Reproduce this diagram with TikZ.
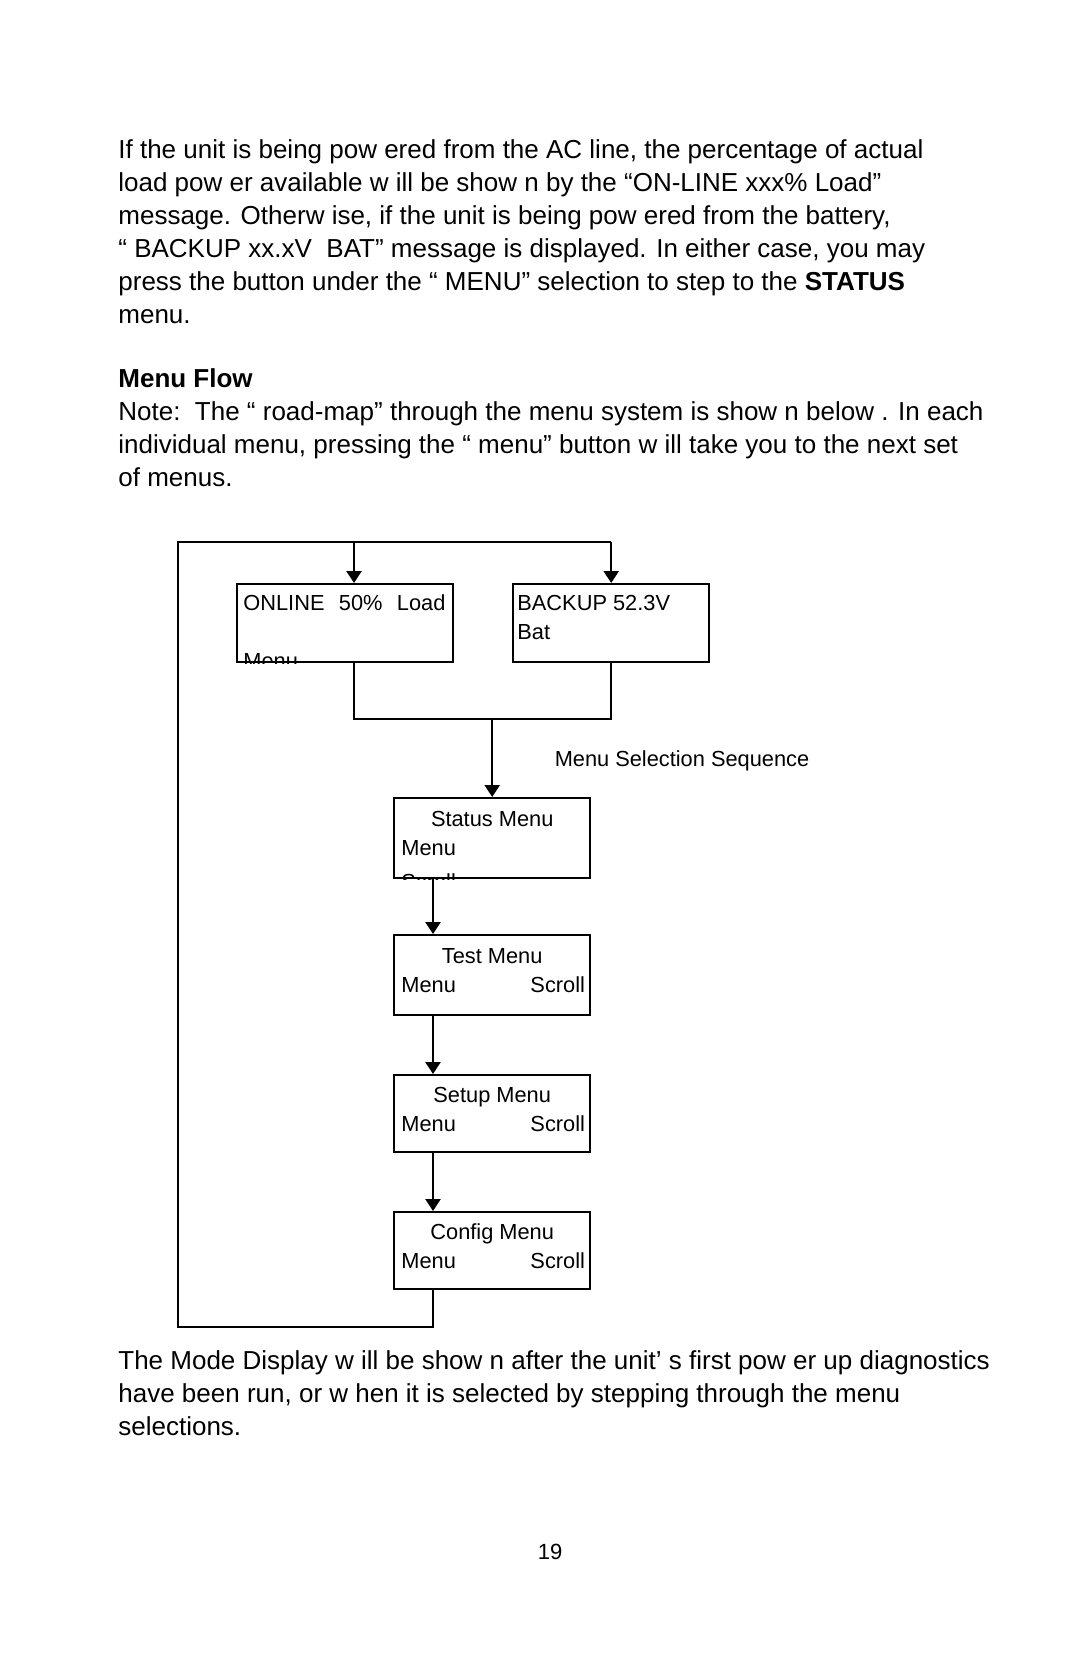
\documentclass[tikz,border=0pt]{standalone}
\usepackage{fontspec}
\setmainfont{Liberation Sans}
\usetikzlibrary{arrows.meta,positioning,calc}

\begin{document}
\begin{tikzpicture}[x=0.5pt,y=-0.5pt,
    body/.style={anchor=base west,align=left,inner sep=0pt,font=\fontsize{13}{16.5}\selectfont},
    box/.style={rectangle,draw,line width=1.2pt,anchor=north west,inner sep=0pt},
    boxtext/.style={inner sep=0pt,font=\fontsize{10.9}{14.5}\selectfont},
    link/.style={line width=1.25pt},
    arrow/.style={-{Triangle[length=6pt,width=7.5pt]},line width=1.25pt}
]
\useasboundingbox (0,0) rectangle (1080,1669);

% Text above the chart (base = last line)
\node[body] (intro) at (118,323) {If the unit is being pow ered from the AC line, the percentage of actual\\
load pow er available w ill be show n by the “ON-LINE xxx\% Load”\\
message. Otherw ise, if the unit is being pow ered from the battery,\\
“ BACKUP xx.xV\ \ BAT” message is displayed. In either case, you may\\
press the button under the “ MENU” selection to step to the \textbf{STATUS}\\
menu.};
\node[body,font=\fontsize{13}{16.5}\selectfont\bfseries] (flowhead) at (118,387) {Menu Flow};
\node[body] (note) at (118,486) {Note:\ \ The “ road-map” through the menu system is show n below . In each\\
individual menu, pressing the “ menu” button w ill take you to the next set\\
of menus.};

% Mode displays (top)
\node[box,minimum width=108pt,minimum height=39pt] (online) at (236,583) {};
\node[box,minimum width=98pt,minimum height=39pt] (backup) at (512,583) {};
\node[boxtext,anchor=base west] (onlinetxt) at ($(online.north west)+(7,27)$) {ONLINE\hspace{0.66em}50\%\hspace{0.66em}Load};
\begin{scope}
  \clip (online.north west) rectangle (online.south east);
  \node[boxtext,anchor=base west] (onlinemenu) at ($(online.north west)+(7,85)$) {Menu};
\end{scope}
\node[boxtext,anchor=base west,align=left] (backuptxt) at ($(backup.north west)+(5,56)$) {BACKUP 52.3V\\Bat};

% Menu chain
\node[box,minimum width=98pt,minimum height=40pt] (status) at (393,797) {};
\node[box,minimum width=98pt,minimum height=40pt] (test) at (393,934) {};
\node[box,minimum width=98pt,minimum height=38.5pt] (setup) at (393,1074) {};
\node[box,minimum width=98pt,minimum height=38.5pt] (config) at (393,1211) {};

\node[boxtext,anchor=base] (statustitle) at ($(status.north)+(0,29)$) {Status Menu};
\node[boxtext,anchor=base west] (statusmenu) at ($(status.north west)+(8,58)$) {Menu};
\begin{scope}
  \clip (status.north west) rectangle (status.south east);
  \node[boxtext,anchor=base west] (statusscroll) at ($(status.north west)+(8,92)$) {Scroll};
\end{scope}

\node[boxtext,anchor=base] (testtitle) at ($(test.north)+(0,29)$) {Test Menu};
\node[boxtext,anchor=base west] (testmenu) at ($(test.north west)+(8,58)$) {Menu};
\node[boxtext,anchor=base east] (testscroll) at ($(test.north east)+(-6,58)$) {Scroll};

\node[boxtext,anchor=base] (setuptitle) at ($(setup.north)+(0,28)$) {Setup Menu};
\node[boxtext,anchor=base west] (setupmenu) at ($(setup.north west)+(8,57)$) {Menu};
\node[boxtext,anchor=base east] (setupscroll) at ($(setup.north east)+(-6,57)$) {Scroll};

\node[boxtext,anchor=base] (configtitle) at ($(config.north)+(0,28)$) {Config Menu};
\node[boxtext,anchor=base west] (configmenu) at ($(config.north west)+(8,57)$) {Menu};
\node[boxtext,anchor=base east] (configscroll) at ($(config.north east)+(-6,57)$) {Scroll};

\node[boxtext,anchor=base] (seqlabel) at (682,766) {Menu Selection Sequence};

% Connectors
\coordinate (topA) at (354,542);
\coordinate (topB) at (backup.north |- topA);
\coordinate (merge) at (354,719);
\coordinate (loopbl) at (178,1327);
\coordinate (stem) at (433,0);

\draw[arrow] (topA) -- (topA |- online.north);
\draw[arrow] (topB) -- (backup.north);
\draw[link] (topA |- online.south) -- (merge) -| (backup.south);
\draw[arrow] (status.north |- merge) -- (status.north);
\draw[arrow] (stem |- status.south) -- (stem |- test.north);
\draw[arrow] (stem |- test.south) -- (stem |- setup.north);
\draw[arrow] (stem |- setup.south) -- (stem |- config.north);
\draw[link] (stem |- config.south) |- (loopbl) |- (topB);

% Text below the chart
\node[body] (after) at (118,1435) {The Mode Display w ill be show n after the unit’ s first pow er up diagnostics\\
have been run, or w hen it is selected by stepping through the menu\\
selections.};
\node[body,anchor=base,font=\fontsize{11}{13}\selectfont] (pagenum) at (550,1559) {19};

\end{tikzpicture}
\end{document}
